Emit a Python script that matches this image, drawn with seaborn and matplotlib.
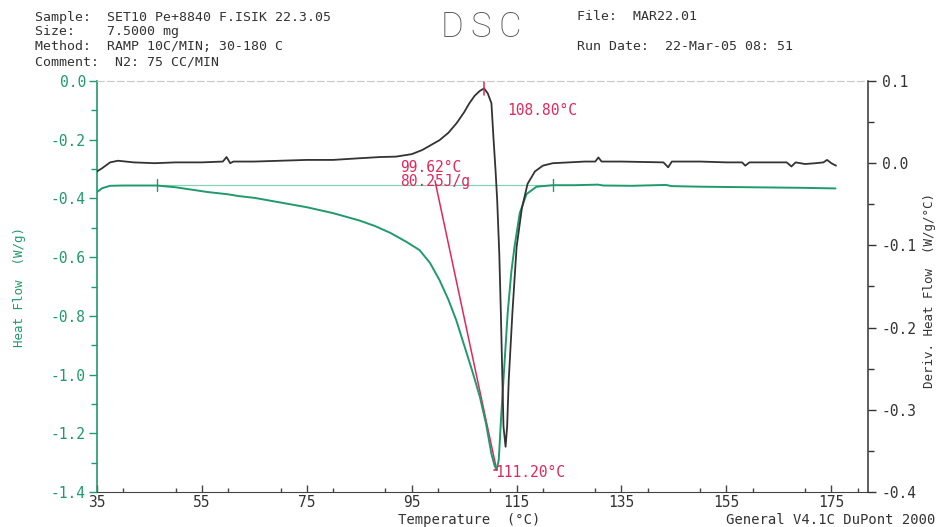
import matplotlib
matplotlib.use("Agg")
import matplotlib.pyplot as plt
import seaborn as sns
import pandas as pd
from matplotlib.ticker import MultipleLocator, FixedLocator

# ---- data -------------------------------------------------------------
# Heat flow (W/g) against temperature (°C)
hf_temp = [35.0, 36.0, 37.5, 40.0, 46.4, 50.0, 53.0, 56.0, 60.0, 62.0, 65.0,
           70.0, 75.0, 80.0, 85.0, 88.0, 91.0, 94.0, 96.5, 98.5, 100.3, 102.0,
           103.5, 105.0, 106.5, 108.0, 109.2, 110.2, 110.8, 111.2, 111.6,
           112.1, 112.7, 113.3, 114.0, 114.6, 115.6, 116.9, 118.8, 121.9,
           126.0, 130.5, 131.5, 137.0, 143.5, 144.5, 150.0, 160.0, 170.0, 175.8]
hf_val = [-0.378, -0.365, -0.357, -0.356, -0.356, -0.362, -0.370, -0.378,
          -0.386, -0.392, -0.398, -0.414, -0.430, -0.450, -0.475, -0.494,
          -0.518, -0.548, -0.576, -0.620, -0.678, -0.745, -0.815, -0.900,
          -0.985, -1.076, -1.170, -1.270, -1.310, -1.325, -1.290, -1.130,
          -0.960, -0.790, -0.650, -0.565, -0.450, -0.385, -0.360, -0.355,
          -0.355, -0.353, -0.356, -0.357, -0.354, -0.358, -0.360, -0.362,
          -0.364, -0.366]

# Derivative of heat flow (W/g/°C)
dhf_temp = [35.0, 36.0, 37.5, 39.0, 42.0, 46.0, 50.0, 55.0, 59.0, 59.7, 60.4,
            61.0, 65.0, 70.0, 75.0, 80.0, 85.0, 89.0, 92.0, 95.0, 97.0, 100.3,
            102.0, 103.6, 105.0, 106.0, 107.0, 108.0, 108.8, 109.5, 110.2,
            110.6, 111.0, 111.3, 111.7, 112.0, 112.5, 112.9, 113.2, 113.5,
            114.2, 115.0, 116.0, 117.1, 118.5, 120.0, 121.9, 125.0, 128.0,
            130.0, 130.6, 131.2, 135.0, 143.0, 143.9, 144.6, 150.0, 155.0,
            158.0, 158.6, 159.4, 163.0, 166.5, 167.4, 168.2, 170.0, 172.0,
            173.5, 174.2, 175.0, 175.9]
dhf_val = [-0.010, -0.006, 0.001, 0.003, 0.001, 0.000, 0.001, 0.001, 0.002,
           0.0075, 0.000, 0.002, 0.002, 0.003, 0.004, 0.004, 0.006, 0.0075,
           0.008, 0.011, 0.016, 0.028, 0.037, 0.049, 0.062, 0.073, 0.082,
           0.088, 0.091, 0.085, 0.073, 0.030, -0.010, -0.045, -0.110, -0.182,
           -0.320, -0.345, -0.320, -0.264, -0.182, -0.102, -0.055, -0.025,
           -0.010, -0.003, 0.000, 0.001, 0.002, 0.002, 0.007, 0.002, 0.002,
           0.001, -0.005, 0.002, 0.002, 0.001, 0.001, -0.003, 0.001, 0.001,
           0.001, -0.004, 0.001, -0.001, 0.000, 0.001, 0.004, 0.000, -0.003]

# Analysis results
peak_deriv_temp, peak_deriv_val = 108.80, 0.091
peak_hf_temp, peak_hf_val = 111.20, -1.325
onset_temp, enthalpy = 99.62, 80.25
baseline_temps = [46.4, 121.9]
baseline_level = -0.355

x_ticks = [35, 55, 75, 95, 115, 135, 155, 175]
hf_ticks = [0.0, -0.2, -0.4, -0.6, -0.8, -1.0, -1.2, -1.4]
dhf_ticks = [0.1, 0.0, -0.1, -0.2, -0.3, -0.4]

header_left = ["Sample:  SET10 Pe+8840 F.ISIK 22.3.05",
               "Size:    7.5000 mg",
               "Method:  RAMP 10C/MIN; 30-180 C",
               "Comment:  N2: 75 CC/MIN"]
header_file = "File:  MAR22.01"
header_date = "Run Date:  22-Mar-05 08: 51"
title_letters = ["D", "S", "C"]

# ---- style ------------------------------------------------------------
sns.set_style("ticks")
MONO = ["DejaVu Sans Mono"]
plt.rcParams["font.family"] = MONO

GREEN = "#1f9a6c"
LIGHT_GREEN = "#86d3b5"
RED = "#e0295a"
DARK = "#333333"
AXIS = "#444444"

fig = plt.figure(figsize=(9.38, 5.27), dpi=100)
ax = fig.add_axes([97 / 938, 1 - 492 / 527, (868 - 97) / 938, (492 - 81) / 527])
ax2 = ax.twinx()

hf_df = pd.DataFrame({"T": hf_temp, "HF": hf_val})
dhf_df = pd.DataFrame({"T": dhf_temp, "DHF": dhf_val})

# Integration baseline and tangent used for the onset
ax.plot(baseline_temps, [baseline_level, baseline_level], color=LIGHT_GREEN,
        lw=0.9, zorder=1)
slope = (peak_hf_val - baseline_level) / (peak_hf_temp - onset_temp)
t_start = onset_temp + 0.015 / slope
ax.plot([t_start, peak_hf_temp], [baseline_level + 0.015, peak_hf_val],
        color=RED, lw=1.1, zorder=2)

sns.lineplot(data=hf_df, x="T", y="HF", ax=ax, color=GREEN, lw=1.4,
             sort=False, zorder=3)
sns.lineplot(data=dhf_df, x="T", y="DHF", ax=ax2, color=DARK, lw=1.3,
             sort=False, zorder=3)

# Markers on the curves
for t in baseline_temps:
    ax.plot([t, t], [baseline_level + 0.02, baseline_level - 0.02],
            color=GREEN, lw=1.0, zorder=4)
ax.plot([peak_hf_temp - 0.5, peak_hf_temp + 0.1], [peak_hf_val, peak_hf_val],
        color=RED, lw=1.2, zorder=4)
ax2.plot([peak_deriv_temp, peak_deriv_temp],
         [peak_deriv_val - 0.008, peak_deriv_val + 0.008],
         color=RED, lw=1.1, zorder=5)

ax2.text(113.3, 0.064, f"{peak_deriv_temp:.2f}°C", color=RED, fontsize=10.5,
         va="center", ha="left")
ax.text(92.7, -0.293, f"{onset_temp:.2f}°C", color=RED, fontsize=10.5,
        va="center", ha="left", zorder=6)
ax.text(92.7, -0.341, f"{enthalpy:.2f}J/g", color=RED, fontsize=10.5,
        va="center", ha="left", zorder=6)
ax.text(110.9, -1.332, f"{peak_hf_temp:.2f}°C", color=RED, fontsize=10.5,
        va="center", ha="left", zorder=6)

# ---- axes -------------------------------------------------------------
ax.set_xlim(35, 182)
ax.set_ylim(-1.4, 0.0)
ax2.set_ylim(-0.4, 0.1)

ax.xaxis.set_major_locator(FixedLocator(x_ticks))
ax.xaxis.set_minor_locator(MultipleLocator(10))
ax.yaxis.set_major_locator(FixedLocator(hf_ticks))
ax.yaxis.set_minor_locator(MultipleLocator(0.1))
ax2.yaxis.set_major_locator(FixedLocator(dhf_ticks))
ax2.yaxis.set_minor_locator(MultipleLocator(0.05))

ax.set_xticklabels([str(v) for v in x_ticks])
ax.set_yticklabels([f"{v:.1f}" for v in hf_ticks])
ax2.set_yticklabels([f"{v:.1f}" for v in dhf_ticks])

ax.tick_params(axis="x", which="both", direction="in", colors=AXIS,
               labelcolor="#333333", labelsize=10.5, length=5, width=1,
               pad=2)
ax.tick_params(axis="x", which="minor", length=3)
ax.tick_params(axis="y", which="both", direction="out", colors=GREEN,
               labelcolor=GREEN, labelsize=10.5, length=6, width=1, pad=2)
ax.tick_params(axis="y", which="minor", length=4)
ax2.tick_params(axis="y", which="both", direction="out", colors=DARK,
                labelcolor=DARK, labelsize=10.5, length=6, width=1, pad=4)
ax2.tick_params(axis="y", which="minor", length=4)

ax.set_xlabel("")
ax.set_ylabel("")
ax2.set_ylabel("")

ax.spines["left"].set_color(GREEN)
ax.spines["left"].set_linewidth(1.2)
ax.spines["bottom"].set_color(AXIS)
ax.spines["right"].set_visible(False)
ax.spines["top"].set_visible(True)
ax.spines["top"].set_color("#c8c8c8")
ax.spines["top"].set_linestyle((0, (6, 3)))
ax.spines["top"].set_linewidth(0.8)
for s in ["left", "bottom", "top"]:
    ax2.spines[s].set_visible(False)
ax2.spines["right"].set_visible(True)
ax2.spines["right"].set_color(DARK)
ax2.spines["right"].set_linewidth(1.1)

# Axis titles
fig.text(469 / 938, 1 - 520 / 527, "Temperature  (°C)", ha="center",
         va="center", fontsize=10, color="#333333")
fig.text(20 / 938, 1 - 287 / 527, "Heat Flow  (W/g)", rotation=90,
         ha="center", va="center", fontsize=9, color=GREEN)
fig.text(929 / 938, 1 - 291 / 527, "Deriv. Heat Flow  (W/g/°C)", rotation=90,
         ha="center", va="center", fontsize=9, color=DARK)
fig.text(935 / 938, 1 - 520 / 527, "General V4.1C DuPont 2000", ha="right",
         va="center", fontsize=10, color="#333333")

# Header
for i, line in enumerate(header_left):
    fig.text(35 / 938, 1 - (17 + 15 * i) / 527, line, ha="left", va="center",
             fontsize=9.5, color="#333333")
fig.text(577 / 938, 1 - 17 / 527, header_file, ha="left", va="center",
         fontsize=9.5, color="#333333")
fig.text(577 / 938, 1 - 47 / 527, header_date, ha="left", va="center",
         fontsize=9.5, color="#333333")
for i, letter in enumerate(title_letters):
    fig.text((452 + 29 * i) / 938, 1 - 27 / 527, letter, ha="center",
             va="center", fontsize=25, color="#555555",
             family=["Roboto", "DejaVu Sans"], fontweight="light")

fig.savefig("out.png", dpi=100, facecolor="white")
